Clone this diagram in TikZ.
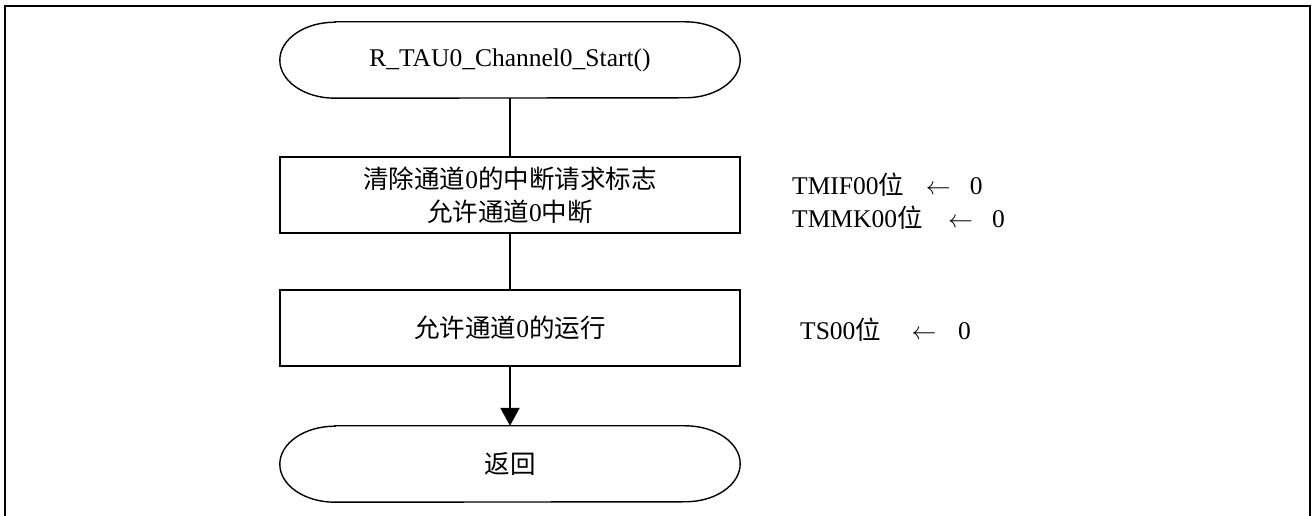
\documentclass[tikz,border=0pt]{standalone}
\usepackage{fontspec}
\setmainfont{Liberation Serif}
\newfontfamily\cjk{Noto Sans CJK SC}
\usetikzlibrary{arrows.meta}
\tikzset{
  x=1pt, y=1pt,
  every node/.style={font=\fontsize{25.5}{33}\selectfont, inner sep=0pt},
  shapeline/.style={draw=black, line width=1.4pt},
  procbox/.style={shapeline, rectangle, minimum width=460pt, minimum height=76pt, align=center},
  termbox/.style={rectangle, minimum width=460pt, minimum height=76pt},
  conn/.style={draw=black, line width=2.4pt},
  note/.style={anchor=west}
}
\newcommand{\termoutline}[1]{%
  \draw[shapeline] ([xshift=55pt]#1.north west) -- ([xshift=-55pt]#1.north east)
    arc[start angle=90, end angle=-90, x radius=55pt, y radius=38pt]
    -- ([xshift=55pt]#1.south west)
    arc[start angle=270, end angle=90, x radius=55pt, y radius=38pt] -- cycle;}
\begin{document}
\begin{tikzpicture}
\useasboundingbox (0,0) rectangle (1312,516);
\fill[white] (0,0) rectangle (1312,516);
% frame
\draw[line width=2pt] (5,-5) -- (5,510) -- (1310,510) -- (1310,-5);

\node[termbox] (start) at (510,456) {R\_TAU0\_Channel0\_Start()};
\termoutline{start}
\node[procbox] (b1) at (510,321) {{\cjk 清除通道}0{\cjk 的中断请求标志}\\{\cjk 允许通道}0{\cjk 中断}};
\node[procbox] (b2) at (510,188) {{\cjk 允许通道}0{\cjk 的运行}};
\node[termbox] (stop) at (510,52) {\cjk 返回};
\termoutline{stop}

\draw[conn] (start.south) -- (b1.north);
\draw[conn] (b1.south) -- (b2.north);
\draw[conn, -{Triangle[length=18pt,width=19pt]}] (b2.south) -- (stop.north);

\node[note] (n1) at (792,331) {TMIF00{\cjk 位}\hspace{0.85em}$\leftarrow$\hspace{0.75em}0};
\node[note] (n2) at (792,298) {TMMK00{\cjk 位}\hspace{1.0em}$\leftarrow$\hspace{0.75em}0};
\node[note] (n3) at (800,186) {TS00{\cjk 位}\hspace{1.2em}$\leftarrow$\hspace{0.85em}0};
\end{tikzpicture}
\end{document}
